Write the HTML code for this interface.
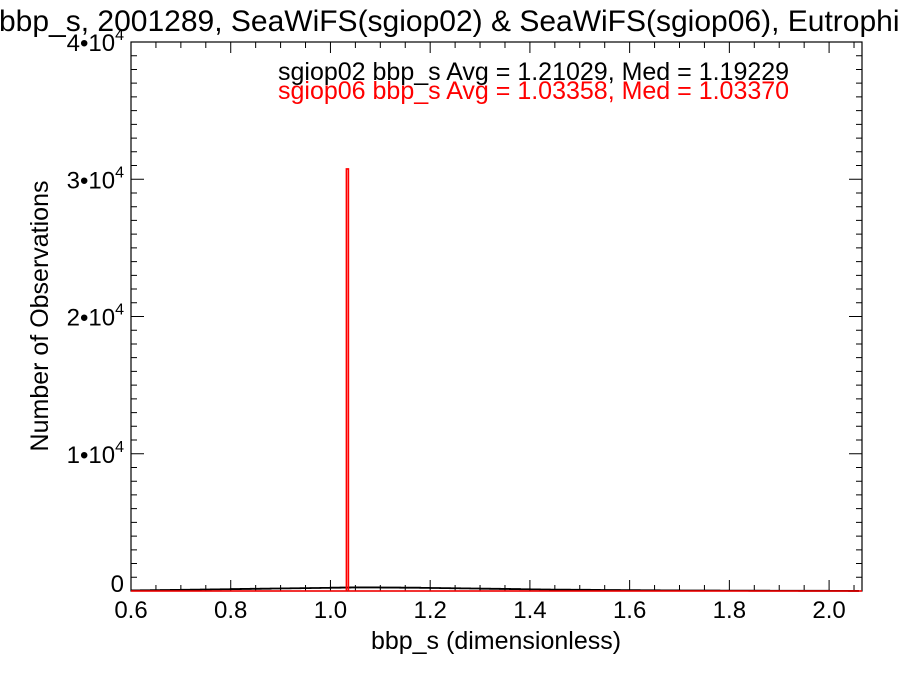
<!DOCTYPE html>
<html><head><meta charset="utf-8"><style>
body{margin:0;background:#fff;}
svg text{font-family:"Liberation Sans",sans-serif;}
</style></head><body>
<svg id="chart" width="900" height="675" viewBox="0 0 900 675">
<text x="-1" y="31" font-size="30" fill="#000">bbp_s, 2001289, SeaWiFS(sgiop02) &amp; SeaWiFS(sgiop06), Eutrophic</text>
<g id="axes"></g>
<g id="series"></g>
<text x="278" y="80" font-size="25" fill="#000">sgiop02 bbp_s Avg = 1.21029, Med = 1.19229</text>
<text x="278" y="99" font-size="25" fill="#ff0000">sgiop06 bbp_s Avg = 1.03358, Med = 1.03370</text>
<text x="496" y="649" font-size="25" text-anchor="middle">bbp_s (dimensionless)</text>
<text transform="translate(48,316) rotate(-90)" font-size="25" text-anchor="middle">Number of Observations</text>
</svg>
<script>
const xTicks=[0.6,0.8,1.0,1.2,1.4,1.6,1.8,2.0];
const xTickLabels=["0.6","0.8","1.0","1.2","1.4","1.6","1.8","2.0"];
const yTicks=[0,10000,20000,30000,40000];
const yTickMant=["0","1","2","3","4"];
const blackBinStart=0.6;
const blackBinWidth=0.02;
const blackCounts=[40,50,60,70,80,90,100,110,120,130,140,150,160,170,180,190,200,210,220,230,240,250,260,260,260,250,250,240,240,230,220,210,200,190,180,170,160,150,140,130,120,110,100,95,90,85,80,75,70,65,60,55,50,45,40,38,36,34,32,30,28,26,24,22,20,18,16,15,14,12,10,8,6];
const redBinStarts=[1.032];
const redBinWidth=0.004;
const redCounts=[30750];
const X0=131,X1=862,Y0=591,Y1=42,xmin=0.6,xmax=2.066,ymin=0,ymax=40000;
const sx=v=>X0+(v-xmin)/(xmax-xmin)*(X1-X0);
const sy=v=>Y0-(v-ymin)/(ymax-ymin)*(Y0-Y1);
const NS="http://www.w3.org/2000/svg";
const axes=document.getElementById('axes'),series=document.getElementById('series');
function mk(t,a,p){const e=document.createElementNS(NS,t);for(const k in a)e.setAttribute(k,a[k]);p.appendChild(e);return e;}
const frame=mk('rect',{x:X0,y:Y1,width:X1-X0,height:Y0-Y1,fill:'none',stroke:'#000','stroke-width':1.2},axes);


let d='';
for(let v=0.6;v<=xmax+1e-9;v+=0.05){const x=sx(v);const maj=Math.abs(Math.round(v*5)-v*5)<1e-6;const L=maj?11:6;d+=`M${x},${Y0}v${-L}M${x},${Y1}v${L}`;}
for(let v=0;v<=ymax+1;v+=1000){const y=sy(v);const maj=v%10000===0;const L=maj?13:6;d+=`M${X0},${y}h${L}M${X1},${y}h${-L}`;}
const tk=mk('path',{d:d,stroke:'#000','stroke-width':1},axes);


xTicks.forEach((v,i)=>{const t=mk('text',{x:sx(v),y:618,'font-size':24,'text-anchor':'middle'},axes);t.textContent=xTickLabels[i];

});
yTicks.forEach((v,i)=>{let y=sy(v)+9;if(v===0)y=592;const t=mk('text',{x:124,y:y,'font-size':24,'text-anchor':'end'},axes);
if(v===0){t.textContent='0';}else{t.textContent=yTickMant[i]+'\u2022'+'10';const s=mk('tspan',{'font-size':16,dy:-11},t);s.textContent='4';}

});
let bp='M'+sx(blackBinStart)+','+sy(blackCounts[0]);
blackCounts.forEach((c,i)=>{const a=blackBinStart+i*blackBinWidth;const b=Math.min(a+blackBinWidth,xmax);bp+=`L${sx(a)},${sy(c)}L${sx(b)},${sy(c)}`;});
const bl=mk('path',{d:bp,fill:'none',stroke:'#000','stroke-width':1.8},series);


let rp=`M${sx(xmin)},${sy(0)}`;
redBinStarts.forEach((a,i)=>{rp+=`L${sx(a)},${sy(0)}L${sx(a)},${sy(redCounts[i])}L${sx(a+redBinWidth)},${sy(redCounts[i])}L${sx(a+redBinWidth)},${sy(0)}`;});
rp+=`L${sx(xmax)},${sy(0)}`;
const rl=mk('path',{d:rp,fill:'none',stroke:'#ff0000','stroke-width':1.6},series);


</script>
</body></html>
